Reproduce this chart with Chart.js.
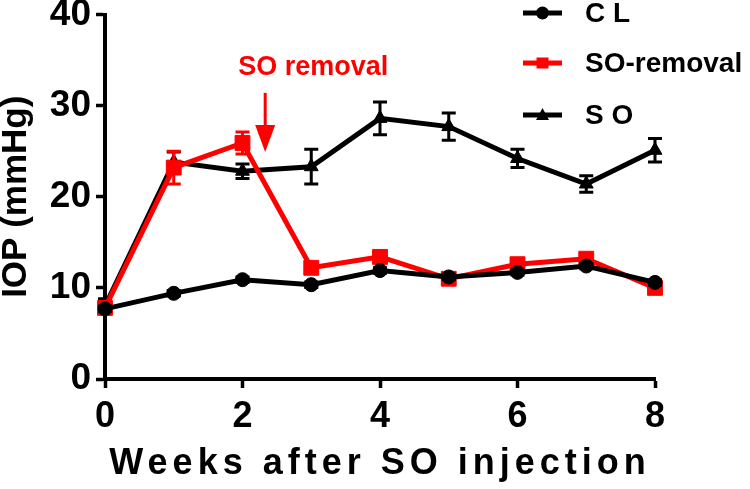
<!DOCTYPE html>
<html>
<head>
<meta charset="utf-8">
<script src="https://cdn.jsdelivr.net/npm/chart.js@4"></script>
<style>
html, body { margin: 0; padding: 0; background: #fff; }
</style>
</head>
<body>
<canvas id="iopChart" width="750" height="489"></canvas>
<script>
const weeks = [0, 1, 2, 3, 4, 5, 6, 7, 8];
const clValues = [7.7, 9.4, 10.9, 10.35, 11.9, 11.2, 11.7, 12.4, 10.6];
const clErrors = [0.3, 0.3, 0.3, 0.3, 0.3, 0.3, 0.3, 0.3, 0.3];
const removalValues = [7.8, 23.2, 25.9, 12.2, 13.4, 11.0, 12.6, 13.2, 10.0];
const removalErrors = [0.4, 1.8, 1.2, 0.5, 0.4, 0.4, 0.4, 0.4, 0.4];
const soValues = [8.0, 23.8, 22.8, 23.3, 28.6, 27.7, 24.2, 21.4, 25.1];
const soErrors = [0.8, 1.1, 0.8, 1.9, 1.8, 1.5, 1.0, 0.9, 1.3];
const seriesLabels = ['C L', 'SO-removal', 'S O'];
const xTicks = [0, 2, 4, 6, 8];
const yTicks = [0, 10, 20, 30, 40];

const FONT = "'Liberation Sans', Arial, sans-serif";
const RED = '#ff0000';
const BLACK = '#000000';

function toPoints(vals) {
    return weeks.map((w, i) => ({ x: w, y: vals[i] }));
}

// error bars, drawn right after each dataset so the stacking matches
const errorBars = {
    id: 'errorBars',
    afterDatasetDraw(chart, args) {
        const ds = chart.data.datasets[args.index];
        if (!ds.errors) return;
        const ctx = chart.ctx;
        const yScale = chart.scales.y;
        ctx.save();
        ctx.strokeStyle = ds.borderColor;
        ctx.lineWidth = 3;
        args.meta.data.forEach((pt, i) => {
            const e = ds.errors[i];
            const top = yScale.getPixelForValue(ds.data[i].y + e);
            const bot = yScale.getPixelForValue(ds.data[i].y - e);
            ctx.beginPath();
            ctx.moveTo(pt.x, top);
            ctx.lineTo(pt.x, bot);
            ctx.moveTo(pt.x - 7, top);
            ctx.lineTo(pt.x + 7, top);
            ctx.moveTo(pt.x - 7, bot);
            ctx.lineTo(pt.x + 7, bot);
            ctx.stroke();
        });
        ctx.restore();
    }
};

// "SO removal" label with arrow
const removalNote = {
    id: 'removalNote',
    afterDatasetsDraw(chart) {
        const ctx = chart.ctx;
        const xs = chart.scales.x, ys = chart.scales.y;
        ctx.save();
        ctx.fillStyle = RED;
        ctx.strokeStyle = RED;
        ctx.font = 'bold 27px ' + FONT;
        ctx.textAlign = 'center';
        ctx.textBaseline = 'middle';
        ctx.fillText('SO removal', xs.getPixelForValue(3.03), ys.getPixelForValue(34.2));

        const ax = xs.getPixelForValue(2.33);
        const y0 = ys.getPixelForValue(31.4);
        const y1 = ys.getPixelForValue(24.9);
        ctx.lineWidth = 3;
        ctx.beginPath();
        ctx.moveTo(ax, y0);
        ctx.lineTo(ax, y1 - 20);
        ctx.stroke();
        ctx.beginPath();
        ctx.moveTo(ax - 10, y1 - 27);
        ctx.lineTo(ax + 10, y1 - 27);
        ctx.lineTo(ax, y1);
        ctx.closePath();
        ctx.fill();
        ctx.restore();
    }
};

// legend drawn over the top right of the plot
const lineLegend = {
    id: 'lineLegend',
    afterDraw(chart) {
        const ctx = chart.ctx;
        const rows = [13, 63, 115];
        ctx.save();
        chart.data.datasets.forEach((ds, i) => {
            const y = rows[i];
            ctx.strokeStyle = ds.borderColor;
            ctx.fillStyle = ds.borderColor;
            ctx.lineWidth = 5;
            ctx.beginPath();
            ctx.moveTo(523, y);
            ctx.lineTo(562, y);
            ctx.stroke();
            ctx.beginPath();
            if (ds.pointStyle === 'circle') {
                ctx.arc(542.5, y, 6.5, 0, Math.PI * 2);
            } else if (ds.pointStyle === 'rect') {
                ctx.rect(536.5, y - 5.5, 12, 11);
            } else {
                ctx.moveTo(542.5, y - 7);
                ctx.lineTo(549, y + 5);
                ctx.lineTo(536, y + 5);
                ctx.closePath();
            }
            ctx.fill();
            ctx.fillStyle = BLACK;
            ctx.font = 'bold 28px ' + FONT;
            ctx.textAlign = 'left';
            ctx.textBaseline = 'middle';
            ctx.fillText(ds.label, 585, y + 1);
        });
        ctx.restore();
    }
};

// wider letter spacing for the x axis title
const spacedTitle = {
    id: 'spacedTitle',
    afterLayout(chart) {
        const xs = chart.scales.x;
        if (xs && !xs._spaced) {
            const orig = xs.drawTitle;
            xs.drawTitle = function () {
                this.ctx.save();
                this.ctx.letterSpacing = '5px';
                orig.call(this);
                this.ctx.restore();
            };
            xs._spaced = true;
        }
    }
};

const axisGrid = {
    drawOnChartArea: false,
    drawTicks: true,
    tickLength: 9,
    tickWidth: 3.5,
    tickColor: BLACK,
    color: BLACK
};

const ctx = document.getElementById('iopChart').getContext('2d');
const chart = new Chart(ctx, {
    type: 'line',
    data: {
        datasets: [{
            label: seriesLabels[0],
            data: toPoints(clValues),
            errors: clErrors,
            borderColor: BLACK,
            backgroundColor: BLACK,
            borderWidth: 5,
            pointStyle: 'circle',
            pointRadius: 7,
            pointBorderWidth: 1,
            clip: false,
            fill: false
        }, {
            label: seriesLabels[1],
            data: toPoints(removalValues),
            errors: removalErrors,
            borderColor: RED,
            backgroundColor: RED,
            borderWidth: 5,
            pointStyle: 'rect',
            pointRadius: 10.5,
            pointBorderWidth: 1,
            clip: false,
            fill: false
        }, {
            label: seriesLabels[2],
            data: toPoints(soValues),
            errors: soErrors,
            borderColor: BLACK,
            backgroundColor: BLACK,
            borderWidth: 5,
            pointStyle: 'triangle',
            pointRadius: 8,
            pointBorderWidth: 1,
            clip: false,
            fill: false
        }]
    },
    options: {
        responsive: false,
        animation: false,
        layout: { padding: { top: 14.5, right: 95, bottom: 0, left: 0 } },
        plugins: {
            legend: { display: false },
            tooltip: { enabled: false }
        },
        scales: {
            x: {
                type: 'linear',
                min: 0,
                max: 8,
                afterBuildTicks: s => { s.ticks = xTicks.map(v => ({ value: v })); },
                afterFit: s => { s.height = 110; s.paddingLeft = 0; s.paddingRight = 0; },
                ticks: {
                    color: BLACK,
                    font: { family: FONT, size: 36, weight: 'bold' },
                    padding: 7,
                    maxRotation: 0,
                    autoSkip: false
                },
                grid: axisGrid,
                border: { color: BLACK, width: 4 },
                title: {
                    display: true,
                    text: 'Weeks after SO injection',
                    color: BLACK,
                    font: { family: FONT, size: 36, weight: 'bold' },
                    padding: { top: 0, bottom: 3 }
                }
            },
            y: {
                min: 0,
                max: 40,
                afterBuildTicks: s => { s.ticks = yTicks.map(v => ({ value: v })); },
                afterFit: s => { s.width = 105; s.paddingTop = 0; s.paddingBottom = 0; },
                ticks: {
                    color: BLACK,
                    font: { family: FONT, size: 37, weight: 'bold' },
                    padding: 5
                },
                grid: axisGrid,
                border: { color: BLACK, width: 4 },
                title: {
                    display: true,
                    text: 'IOP (mmHg)',
                    color: BLACK,
                    font: { family: FONT, size: 35, weight: 'bold', lineHeight: 0.92 },
                    padding: 0
                }
            }
        }
    },
    plugins: [errorBars, removalNote, lineLegend, spacedTitle]
});
</script>
</body>
</html>
